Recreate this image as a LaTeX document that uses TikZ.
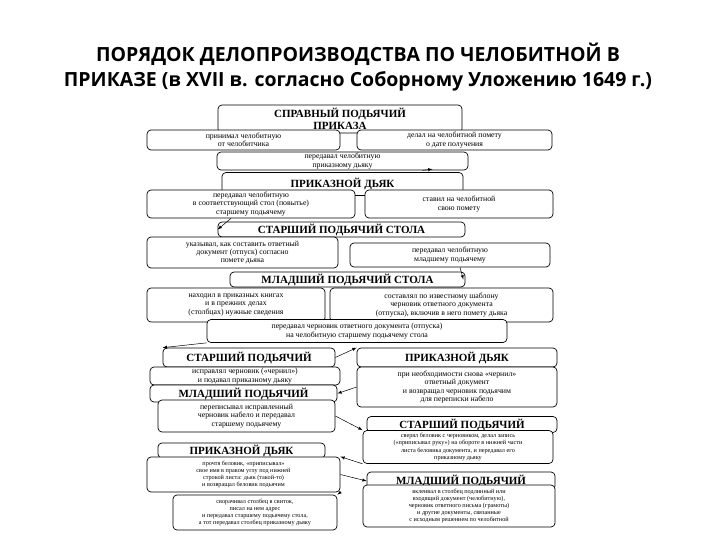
\documentclass[tikz,border=0pt]{standalone}
\usepackage{fontspec}
\setmainfont{Liberation Serif}
\newfontfamily\titlefont{Open Sans}
\begin{document}
\begin{tikzpicture}[x=1pt,y=-1pt,
  box/.style={draw=black,line width=0.7pt,fill=white,rounded corners=4pt,inner sep=1pt,align=center,font=\fontsize{7.8}{8.4}\selectfont},
  head/.style={box,font=\fontsize{11}{11.5}\selectfont\bfseries},
  small/.style={font=\fontsize{6.2}{7.2}\selectfont},
  arr/.style={-latex,line width=0.5pt}]
\useasboundingbox (0,0) rectangle (720,540);
\node[font=\titlefont\bfseries\fontsize{19.5}{22}\selectfont,align=center] (title) at (358,67) {ПОРЯДОК ДЕЛОПРОИЗВОДСТВА ПО ЧЕЛОБИТНОЙ В\\[3pt]ПРИКАЗЕ (в XVII в. согласно Соборному Уложению 1649 г.)};
% headers
\node[head,minimum width=244,minimum height=28] (h1) at (340,119) {СПРАВНЫЙ ПОДЬЯЧИЙ\\ПРИКАЗА};
\node[head,minimum width=241,minimum height=23] (h2) at (342.5,184) {ПРИКАЗНОЙ ДЬЯК};
\node[box,minimum width=251,minimum height=18] (a3) at (342.5,161) {передавал челобитную\\приказному дьяку};
\node[box,minimum width=193,minimum height=20] (a1) at (243.5,140) {принимал челобитную\\от челобитчика};
\node[box,minimum width=195,minimum height=20] (a2) at (454.5,140) {делал на челобитной помету\\о дате получения};
\node[box,minimum width=208,minimum height=28] (b1) at (251,204) {передавал челобитную\\в соответствующий стол (повытье)\\старшему подьячему};
\node[box,minimum width=188,minimum height=28] (b2) at (459,204) {ставил на челобитной\\свою помету};
\node[head,minimum width=247,minimum height=15] (h3) at (341.5,229.5) {СТАРШИЙ ПОДЬЯЧИЙ СТОЛА};
\node[box,minimum width=191,minimum height=31] (c1) at (242.5,252.5) {указывал, как составить ответный\\документ (отпуск) согласно\\помете дьяка};
\node[box,minimum width=200,minimum height=24] (c2) at (450,255) {передавал челобитную\\младшему подьячему};
\node[head,minimum width=235,minimum height=15] (h4) at (347.5,279.5) {МЛАДШИЙ ПОДЬЯЧИЙ СТОЛА};
\node[box,minimum width=178,minimum height=34] (d1) at (236,305) {находил в приказных книгах\\и в прежних делах\\(столбцах) нужные сведения};
\node[box,minimum width=223,minimum height=34] (d2) at (441.5,305) {составлял по известному шаблону\\черновик ответного документа\\(отпуска), включив в него помету дьяка};
\node[box,minimum width=300,minimum height=23] (d3) at (357,331) {передавал черновик ответного документа (отпуска)\\на челобитную старшему подьячему стола};
\node[head,minimum width=172,minimum height=19] (h5) at (249,357.5) {СТАРШИЙ ПОДЬЯЧИЙ};
\node[head,minimum width=200,minimum height=19] (h6) at (457,357.5) {ПРИКАЗНОЙ ДЬЯК};
\node[box,minimum width=190,minimum height=18] (e1) at (245,376) {исправлял черновик («чернил»)\\и подавал приказному дьяку};
\node[box,minimum width=200,minimum height=40] (e2) at (457,387) {при необходимости снова «чернил»\\ответный документ\\и возвращал черновик подьячим\\для переписки набело};
\node[head,minimum width=187,minimum height=17] (h7) at (243.5,393.5) {МЛАДШИЙ ПОДЬЯЧИЙ};
\node[box,minimum width=177,minimum height=32] (e3) at (246.5,416) {переписывал исправленный\\черновик набело и передавал\\старшему подьячему};
\node[head,minimum width=190,minimum height=16] (h8) at (462,424.5) {СТАРШИЙ ПОДЬЯЧИЙ};
\node[box,small,minimum width=190,minimum height=33] (e4) at (458,447) {сверял беловик с черновиком, делал запись\\(«приписывал руку») на обороте в нижней части\\листа беловика документа, и передавал его\\приказному дьяку};
\node[head,minimum width=167,minimum height=15] (h9) at (241.5,450.5) {ПРИКАЗНОЙ ДЬЯК};
\node[box,small,minimum width=193,minimum height=35] (f1) at (243.5,474.5) {прочтя беловик, «приписывал»\\свое имя в правом углу под нижней\\строкой листа: дьяк (такой-то)\\и возвращал беловик подьячим};
\node[head,minimum width=188,minimum height=18] (h10) at (461,481) {МЛАДШИЙ ПОДЬЯЧИЙ};
\node[box,small,minimum width=192,minimum height=42] (f2) at (459,506) {вклеивал в столбец подлинный или\\входящий документ (челобитную),\\черновик ответного письма (грамоты)\\и другие документы, связанные\\с исходным решением по челобитной};
\node[box,small,minimum width=164,minimum height=35] (f3) at (255,512.5) {сворачивал столбец в свиток,\\писал на нем адрес\\и передавал старшему подьячему стола,\\а тот передавал столбец приказному дьяку};
% arrows
\draw[arr] ([xshift=80]a3.south) -- ([xshift=90,yshift=3]h2.north);
\draw[arr] ([xshift=-20]b1.south) -- (h3.west);
\draw[arr] ([xshift=10]c2.south) -- ([xshift=-2]h4.east);
\draw[arr] (d3.south west) -- (h5.north west);
\draw[arr] (h5.east) -- (h6.north west);
\draw[arr] (e2.west) -- (h7.east);
\draw[arr] (e3.east) -- (e4.north west);
\draw[arr] (e4.south west) -- (f1.north east);
\draw[arr] (f1.east) -- (h10.west);
\draw[arr] (f1.south east) -- (f3.north east);
\end{tikzpicture}
\end{document}
